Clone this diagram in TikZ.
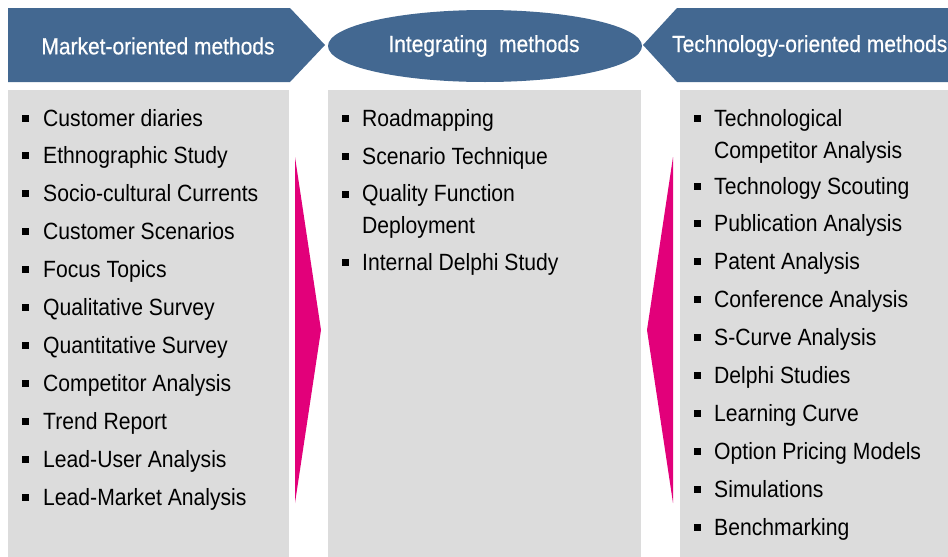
\documentclass[tikz,border=0pt]{standalone}
\usepackage{fontspec}
\setmainfont{Liberation Sans}
\newfontfamily\condfont{Liberation Sans}[FakeStretch=0.9]
\newfontfamily\hdrfont{Liberation Sans}[FakeStretch=0.9,FakeBold=0.6]
\usetikzlibrary{shapes.geometric}
\definecolor{hdrblue}{HTML}{436891}
\definecolor{boxgray}{HTML}{DCDCDC}
\definecolor{tmagenta}{HTML}{E2007A}
\tikzset{
  hdrtext/.style={text=white, font=\hdrfont\fontsize{23.3}{26}\selectfont, inner sep=0pt},
  item/.style={anchor=base west, inner sep=0pt, align=left, font=\condfont\fontsize{23.5}{31.5}\selectfont},
  bul/.style={fill=black, minimum size=7pt, inner sep=0pt, draw=none},
  colbox/.style={fill=boxgray, draw=none},
  arrowtri/.style={fill=tmagenta, draw=none}
}
\begin{document}
\begin{tikzpicture}[x=1pt,y=-1pt]
\useasboundingbox (0,0) rectangle (948,557);
% headers
\fill[hdrblue] (8,8) -- (290,8) -- (325,45) -- (290,82) -- (8,82) -- cycle;
\node[hdrtext] (hleft) at (158,46) {Market-oriented methods};
\node[ellipse, fill=hdrblue, minimum width=314pt, minimum height=72pt, inner sep=0pt] (hmid) at (485,46) {};
\node[hdrtext] (hmidt) at (484,46) {Integrating\ \ methods};
\fill[hdrblue] (948,8) -- (677,8) -- (643,45) -- (677,82) -- (948,82) -- cycle;
\node[hdrtext, anchor=west] (hright) at (672,46) {Technology-oriented methods};
% columns
\fill[colbox] (8,90) rectangle (289,557);
\fill[colbox] (328,90) rectangle (641,557);
\fill[colbox] (680,90) rectangle (948,557);
% magenta arrows
\fill[arrowtri] (295,157) -- (321,330) -- (295,503) -- cycle;
\fill[arrowtri] (673,157) -- (647,330) -- (673,503) -- cycle;
% left items
\foreach \t [count=\i] in {Customer diaries, Ethnographic Study, Socio-cultural Currents, Customer Scenarios, Focus Topics, Qualitative Survey, Quantitative Survey, Competitor Analysis, Trend Report, Lead-User Analysis, Lead-Market Analysis}{
  \pgfmathsetmacro{\yy}{118+37.9*(\i-1)}
  \node[bul] (lb\i) at (25,\yy) {};
  \node[item] (l\i) at (43,\yy+8) {\t};
}
% middle items
\node[bul] (mb1) at (345,118) {};
\node[item] (m1) at (362,126) {Roadmapping};
\node[bul] (mb2) at (345,156) {};
\node[item] (m2) at (362,164) {Scenario Technique};
\node[bul] (mb3) at (345,194) {};
\node[item] (m3) at (362,233) {Quality Function\\Deployment};
\node[bul] (mb4) at (345,262) {};
\node[item] (m4) at (362,270) {Internal Delphi Study};
% right items
\node[bul] (rb1) at (697,118) {};
\node[item] (r1) at (714,158) {Technological\\Competitor Analysis};
\foreach \t [count=\i] in {Technology Scouting, Publication Analysis, Patent Analysis, Conference Analysis, S-Curve Analysis, Delphi Studies, Learning Curve, Option Pricing Models, Simulations, Benchmarking}{
  \pgfmathsetmacro{\yy}{186+37.9*(\i-1)}
  \node[bul] (rb\i x) at (697,\yy) {};
  \node[item] (r\i x) at (714,\yy+8) {\t};
}
\end{tikzpicture}
\end{document}
